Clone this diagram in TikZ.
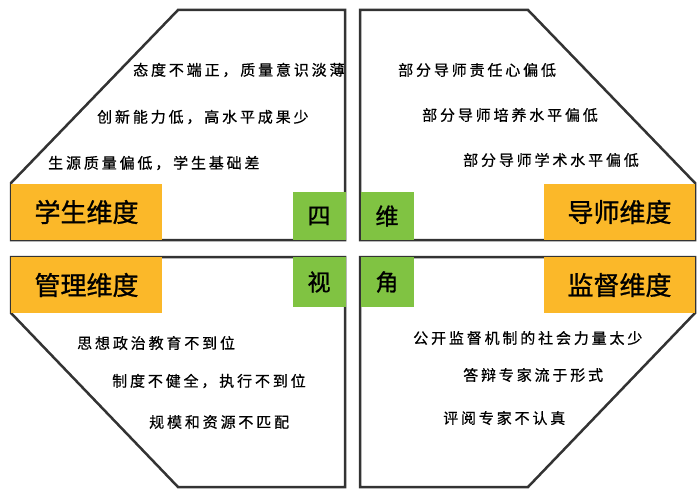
\documentclass[tikz,border=0pt]{standalone}
\usepackage{fontspec}
\newfontfamily\cjk[FakeBold=1]{Noto Sans CJK SC}
\newfontfamily\cjkbody[LetterSpace=19,FakeBold=0.6]{Noto Sans CJK SC}
\usetikzlibrary{positioning}
\definecolor{dimorange}{HTML}{FBB829}
\definecolor{viewgreen}{HTML}{80C342}
\definecolor{edgegray}{HTML}{333333}

\begin{document}
\begin{tikzpicture}[x=1pt,y=-1pt,
    frame/.style={draw=edgegray, line width=2.5pt, line join=miter},
    dimbox/.style={fill=dimorange, minimum width=151pt, minimum height=56pt, inner sep=0pt,
      font=\cjk\fontsize{26}{26}\selectfont},
    viewbox/.style={fill=viewgreen, minimum width=53pt, inner sep=0pt,
      font=\cjk\fontsize{23}{23}\selectfont},
    item/.style={anchor=west, inner sep=0pt, font=\cjkbody\fontsize{15}{15}\selectfont}]
    \useasboundingbox (0,0) rectangle (699,492);

    % Outlines
    \draw[frame] (178,10) -- (345,10) -- (345,240) -- (11,240) -- (11,183) -- cycle;
    \draw[frame] (360,10) -- (528,10) -- (695,183) -- (695,240) -- (360,240) -- cycle;
    \draw[frame] (11,257) -- (345,257) -- (345,487) -- (178,487) -- (11,313) -- cycle;
    \draw[frame] (360,257) -- (695,257) -- (695,313) -- (528,487) -- (360,487) -- cycle;

    % Student
    \node[dimbox] (student) at (86.5,212) {学生维度};
    \node[item] (s1) at (133,70) {态度不端正，质量意识淡薄};
    \node[item] (s2) at (97,117) {创新能力低，高水平成果少};
    \node[item] (s3) at (48,163) {生源质量偏低，学生基础差};

    % Tutor
    \node[dimbox] (tutor) at (619.5,212) {导师维度};
    \node[item] (t1) at (398,70) {部分导师责任心偏低};
    \node[item] (t2) at (422,115) {部分导师培养水平偏低};
    \node[item] (t3) at (463,160) {部分导师学术水平偏低};

    % Management
    \node[dimbox] (manage) at (86.5,285) {管理维度};
    \node[item] (m1) at (77,343) {思想政治教育不到位};
    \node[item] (m2) at (112,381) {制度不健全，执行不到位};
    \node[item] (m3) at (149,422) {规模和资源不匹配};

    % Supervision
    \node[dimbox] (supervise) at (619.5,285) {监督维度};
    \node[item] (v1) at (413,338) {公开监督机制的社会力量太少};
    \node[item] (v2) at (463,375) {答辩专家流于形式};
    \node[item] (v3) at (443,418) {评阅专家不认真};

    % Four views
    \node[viewbox, minimum height=48pt] (four) at (319,216) {四};
    \node[viewbox, minimum height=48pt] (dim) at (387,216) {维};
    \node[viewbox, minimum height=50pt] (view) at (319,282) {视};
    \node[viewbox, minimum height=50pt] (angle) at (387,282) {角};
\end{tikzpicture}
\end{document}
